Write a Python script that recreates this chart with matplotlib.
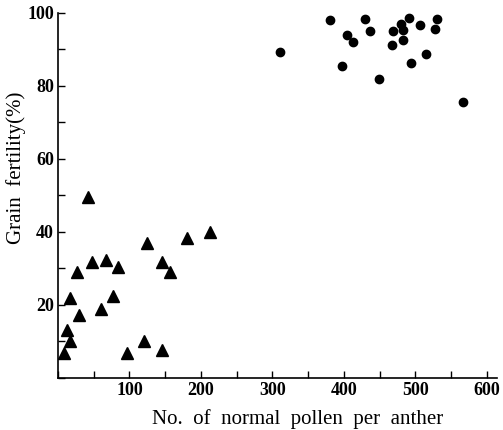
import matplotlib
matplotlib.use("Agg")
import matplotlib.pyplot as plt
from matplotlib.ticker import MultipleLocator

# triangles: low pollen group
tri_x = [9, 13, 17, 16.5, 27, 29, 42, 48, 60, 67, 77, 84, 96, 120.5, 124, 146, 146, 157, 181, 213]
tri_y = [6.9, 13, 10, 22, 29, 17.3, 49.4, 31.8, 18.8, 32.3, 22.5, 30.5, 6.9, 10, 37, 7.7, 31.7, 29, 38.4, 40]

# circles: high pollen group
dot_x = [311, 380, 397, 404, 412, 430, 436, 449, 467, 468, 480, 482, 482, 491, 494, 506, 515, 527, 530, 566]
dot_y = [89.3, 97.9, 85.4, 93.9, 91.8, 98.3, 95, 81.9, 91.2, 94.9, 96.9, 95.2, 92.5, 98.6, 86.1, 96.6, 88.6, 95.6, 98.2, 75.4]

plt.rcParams["font.family"] = ["Liberation Serif", "DejaVu Serif"]

fig = plt.figure(figsize=(5.03, 4.30), dpi=100)
ax = fig.add_axes([0.1153, 0.1209, 0.8727, 0.8500])

ax.plot(tri_x, tri_y, linestyle="none", marker="^", markersize=8, color="black")
ax.plot(dot_x, dot_y, linestyle="none", marker="o", markersize=6, color="black")

ax.set_xlim(0, 614)
ax.set_ylim(0, 100)

ax.spines["top"].set_visible(False)
ax.spines["right"].set_visible(False)
ax.spines["left"].set_linewidth(1.2)
ax.spines["bottom"].set_linewidth(1.2)

ax.xaxis.set_major_locator(MultipleLocator(100))
ax.xaxis.set_minor_locator(MultipleLocator(50))
ax.yaxis.set_major_locator(MultipleLocator(20))
ax.yaxis.set_minor_locator(MultipleLocator(10))
ax.tick_params(which="both", direction="in", width=1, labelsize=13, pad=3)
ax.tick_params(which="major", length=5)
ax.tick_params(which="minor", length=5)

# no 0 labels
ax.set_xticks([100, 200, 300, 400, 500, 600])
ax.set_yticks([20, 40, 60, 80, 100])
for lbl in ax.get_xticklabels() + ax.get_yticklabels():
    lbl.set_fontweight("bold")

ax.set_xlabel("No.  of  normal  pollen  per  anther", fontsize=15)
ax.xaxis.set_label_coords(0.547, -0.085)
ax.set_ylabel("Grain  fertility(%)", fontsize=15)
ax.yaxis.set_label_coords(-0.072, 0.575)

fig.savefig("out.png", dpi=100)
